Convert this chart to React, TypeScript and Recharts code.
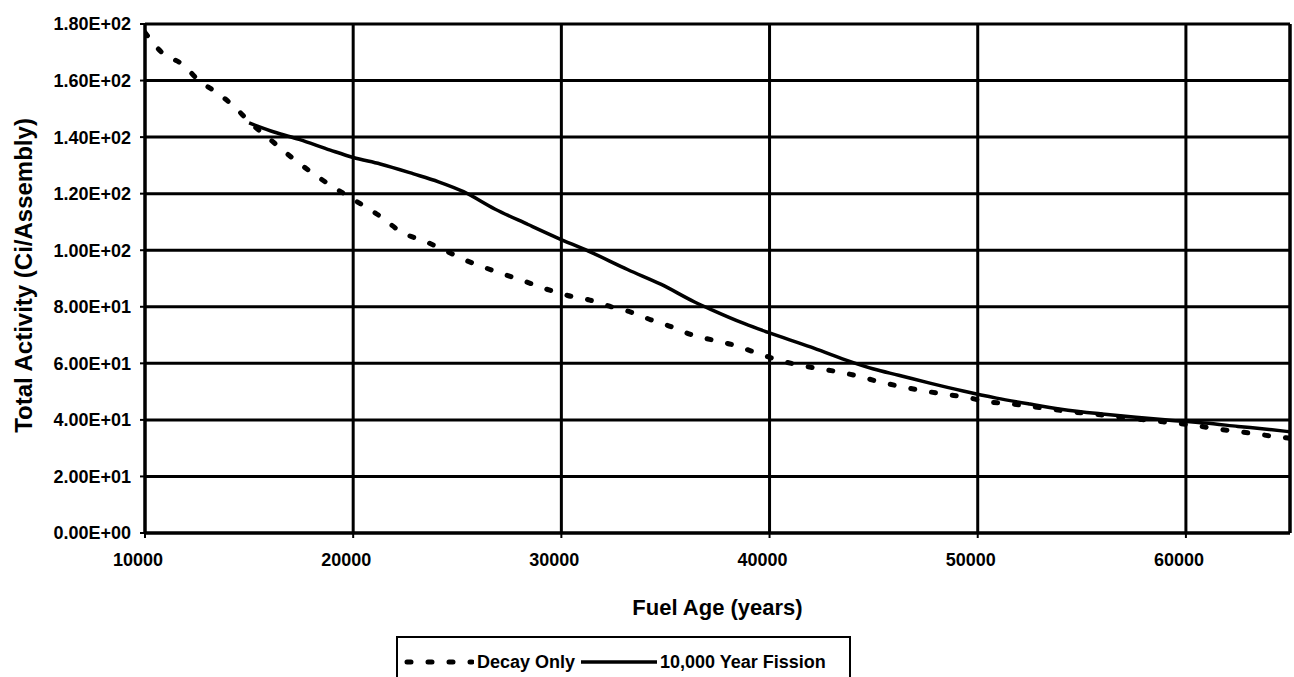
import React from 'react';
import { LineChart, Line, XAxis, YAxis, CartesianGrid, Legend, ReferenceLine } from 'recharts';

const xTicks = [10000, 20000, 30000, 40000, 50000, 60000];
const xTickLabels = ['10000', '20000', '30000', '40000', '50000', '60000'];
const yTicks = [0, 20, 40, 60, 80, 100, 120, 140, 160, 180];
const yTickLabels = ['0.00E+00', '2.00E+01', '4.00E+01', '6.00E+01', '8.00E+01', '1.00E+02', '1.20E+02', '1.40E+02', '1.60E+02', '1.80E+02'];

const seriesNames = ['Decay Only', '10,000 Year Fission'];

const decayYears = [10000, 10800, 11800, 12600, 13500, 14300, 15000, 16200, 17100, 18100, 18900, 20000, 21300, 22300, 23500, 24500, 25200, 26200, 27200, 28200, 29300, 30300, 31300, 32400, 33300, 34300, 35300, 36300, 37300, 38300, 39300, 40300, 42300, 43300, 44300, 45100, 46100, 47300, 48500, 49400, 50400, 51400, 52400, 53500, 54700, 55900, 56900, 57900, 58900, 60000, 61000, 62000, 63100, 64100, 65000];
const decayActivity = [177, 170, 165.7, 160, 155.5, 150.7, 145.5, 138, 132.5, 127, 123, 118, 112, 106.5, 103, 99.6, 97.1, 94.2, 91.6, 89.1, 86.2, 84, 82.5, 80, 78.2, 75.4, 72.9, 70, 68.2, 66.4, 63.9, 61.4, 58.2, 57, 55.4, 53.8, 52.1, 50.4, 49, 48.1, 46.5, 45.8, 44.9, 43.8, 42.7, 41.8, 40.9, 40.1, 39.3, 38.4, 37.4, 36.3, 35.3, 34.3, 33.5];

const fissionYears = [15000, 16200, 17400, 18900, 20000, 21300, 22900, 24100, 25300, 26800, 28400, 29800, 31300, 33200, 34800, 36400, 37200, 38800, 39900, 42000, 43500, 45000, 46200, 47700, 49300, 50900, 52500, 54000, 56100, 57600, 59200, 60900, 62500, 64000, 65000];
const fissionActivity = [145, 141.8, 139.2, 135.4, 132.8, 130.5, 127, 124.2, 120.7, 114.6, 109.1, 104.4, 99.7, 93.1, 87.9, 81.7, 79, 74, 71, 65.7, 61.6, 58, 55.8, 53, 50.2, 47.7, 45.6, 43.8, 42, 40.9, 39.9, 38.9, 37.7, 36.6, 35.8];

const decayData = decayYears.map((year, i) => ({ year, activity: decayActivity[i] }));
const fissionData = fissionYears.map((year, i) => ({ year, activity: fissionActivity[i] }));

const FONT = '"Liberation Sans", Arial, sans-serif';

const XTick = (props: any) => {
  const { x, y, payload } = props;
  const i = xTicks.indexOf(payload.value);
  return (
    <text x={x - 7} y={y} dy="0.71em" textAnchor="middle" fontFamily={FONT} fontWeight={700} fontSize={18} fill="#000">
      {i >= 0 ? xTickLabels[i] : ''}
    </text>
  );
};

const YTick = (props: any) => {
  const { x, y, payload } = props;
  const i = yTicks.indexOf(payload.value);
  return (
    <text x={x} y={y} dy="0.355em" textAnchor="end" fontFamily={FONT} fontWeight={700} fontSize={18} fill="#000">
      {i >= 0 ? yTickLabels[i] : ''}
    </text>
  );
};

const XTitle = (props: any) => {
  const vb = props.viewBox || { x: 145, y: 533, width: 1145, height: 40 };
  return (
    <text x={vb.x + vb.width / 2} y={vb.y + 82} textAnchor="middle" fontFamily={FONT} fontWeight={700} fontSize={22} fill="#000">
      Fuel Age (years)
    </text>
  );
};

const YTitle = (props: any) => {
  const vb = props.viewBox || { x: 0, y: 24, width: 145, height: 509 };
  const cx = 24;
  const cy = vb.y + vb.height / 2 - 3;
  return (
    <text x={cx} y={cy} dy="0.35em" transform={`rotate(-90, ${cx}, ${cy})`} textAnchor="middle" fontFamily={FONT} fontWeight={700} fontSize={24} fill="#000">
      Total Activity (Ci/Assembly)
    </text>
  );
};

const renderLegend = (props: any) => {
  const payload: any[] = [...(props.payload || [])].sort(
    (a: any, b: any) => seriesNames.indexOf(a.value) - seriesNames.indexOf(b.value)
  );
  return (
    <div
      style={{
        width: 455,
        height: 52,
        boxSizing: 'border-box',
        border: '2px solid #000',
        background: '#fff',
        display: 'flex',
        alignItems: 'center',
        paddingLeft: 6,
        fontFamily: FONT,
        fontWeight: 700,
        fontSize: 18,
        color: '#000',
        whiteSpace: 'nowrap',
      }}
    >
      {payload.map((entry: any, idx: number) => {
        const dashed = entry.value === seriesNames[0];
        return (
          <div key={idx} style={{ display: 'flex', alignItems: 'center', marginRight: 6 }}>
            <svg width={dashed ? 70 : 76} height={10} style={{ display: 'block', marginRight: 3 }}>
              {dashed ? (
                <line x1={3} y1={5} x2={68} y2={5} stroke="#000" strokeWidth={5} strokeDasharray="4 17" strokeLinecap="round" />
              ) : (
                <line x1={0} y1={5} x2={76} y2={5} stroke="#000" strokeWidth={3.5} />
              )}
            </svg>
            <span>{entry.value}</span>
          </div>
        );
      })}
    </div>
  );
};

export default function App() {
  return (
    <div style={{ position: 'absolute', left: 0, top: 0, width: 1294, height: 677, overflow: 'hidden', background: '#fff' }}>
      <LineChart width={1294} height={700} margin={{ top: 24, right: 4, bottom: 127, left: 0 }}>
        <CartesianGrid stroke="#000" strokeWidth={3} horizontal={true} vertical={true} />
        <XAxis
          type="number"
          dataKey="year"
          domain={[10000, 65000]}
          ticks={xTicks}
          interval={0}
          allowDataOverflow
          height={40}
          tick={<XTick />}
          tickSize={5}
          tickMargin={15}
          axisLine={{ stroke: '#000', strokeWidth: 3 }}
          tickLine={{ stroke: '#000', strokeWidth: 2 }}
          label={<XTitle />}
        />
        <YAxis
          type="number"
          domain={[0, 180]}
          ticks={yTicks}
          interval={0}
          allowDataOverflow
          width={145}
          tick={<YTick />}
          tickSize={5}
          tickMargin={9}
          axisLine={{ stroke: '#000', strokeWidth: 3 }}
          tickLine={{ stroke: '#000', strokeWidth: 2 }}
          label={<YTitle />}
        />
        <ReferenceLine x={65000} stroke="#000" strokeWidth={3} ifOverflow="extendDomain" />
        <Legend
          layout="vertical"
          align="center"
          verticalAlign="middle"
          wrapperStyle={{ left: 396, top: 636, width: 455 }}
          content={renderLegend}
        />
        <Line
          data={decayData}
          dataKey="activity"
          name={seriesNames[0]}
          type="monotone"
          stroke="#000"
          strokeWidth={5}
          strokeDasharray="4 17"
          strokeLinecap="round"
          dot={false}
          activeDot={false}
          isAnimationActive={false}
        />
        <Line
          data={fissionData}
          dataKey="activity"
          name={seriesNames[1]}
          type="monotone"
          stroke="#000"
          strokeWidth={3.5}
          dot={false}
          activeDot={false}
          isAnimationActive={false}
        />
      </LineChart>
    </div>
  );
}
